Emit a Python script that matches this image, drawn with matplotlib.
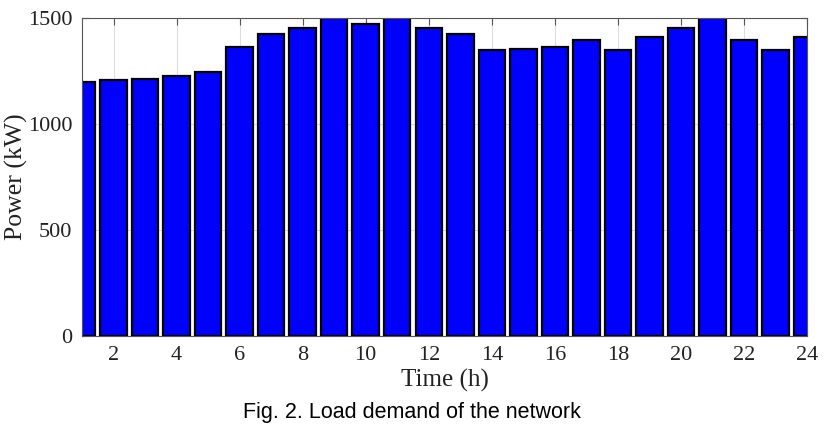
import matplotlib
matplotlib.use("Agg")
import matplotlib.pyplot as plt

# Load demand per hour (kW)
horas = list(range(1, 25))
demanda = [1200, 1208, 1214, 1226, 1245, 1365, 1425, 1455, 1500, 1470, 1500, 1455,
           1425, 1350, 1355, 1365, 1395, 1350, 1410, 1455, 1500, 1395, 1350, 1410]
ticks_x = list(range(2, 25, 2))
ticks_y = [0, 500, 1000, 1500]

fig = plt.figure(figsize=(8.26, 4.4), dpi=100)
ax = fig.add_axes([0.0993, 0.236, 0.8777, 0.723])

ax.bar(horas, demanda, width=0.84, color="#0000ff", edgecolor="black", linewidth=1.6, zorder=2)

ax.set_xlim(1, 24)
ax.set_ylim(0, 1500)
ax.set_xticks(ticks_x)
ax.set_yticks(ticks_y)
ax.grid(True, color="#dddddd", linewidth=0.8, zorder=0)
ax.set_axisbelow(True)
ax.tick_params(direction="in", top=True, right=True, length=5, color="#555555",
               labelsize=16, pad=7)
for lab in ax.get_xticklabels() + ax.get_yticklabels():
    lab.set_fontfamily("Liberation Serif")
    lab.set_color("#222222")
for s in ax.spines.values():
    s.set_color("#555555")
    s.set_linewidth(0.8)

ax.set_xlabel("Time (h)", fontsize=18, fontfamily="Liberation Serif", color="#222222", labelpad=3)
ax.set_ylabel("Power (kW)", fontsize=18.5, fontfamily="Liberation Serif", color="#222222", labelpad=0)

fig.text(0.499, 0.062, "Fig. 2. Load demand of the network", ha="center", va="center",
         fontsize=15.5, fontfamily="Liberation Sans", color="black")

fig.savefig("out.png", dpi=100)
